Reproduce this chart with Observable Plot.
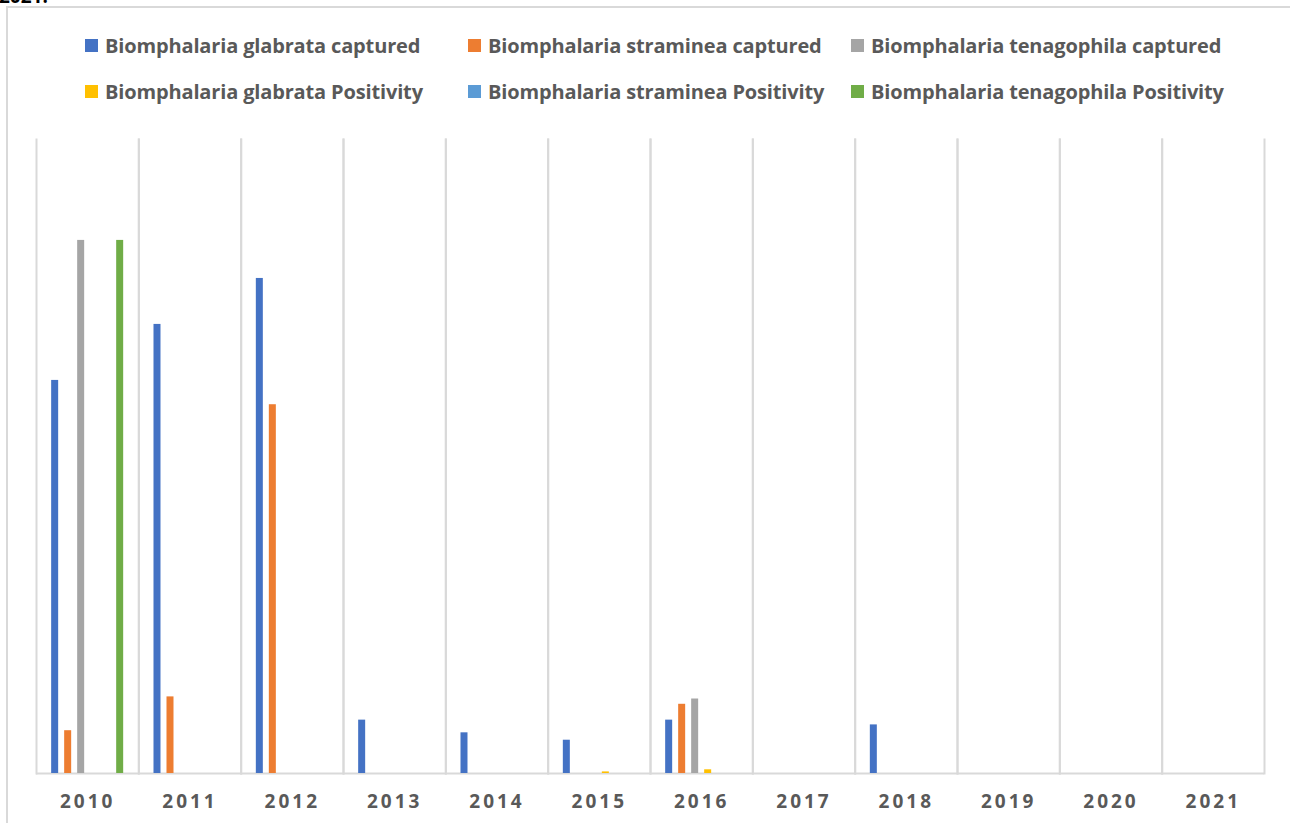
<!DOCTYPE html>
<html>
<head>
<meta charset="utf-8">
<script src="https://cdn.jsdelivr.net/npm/d3@7"></script>
<script src="https://cdn.jsdelivr.net/npm/@observablehq/plot@0.6"></script>
<style>
  html, body { margin: 0; padding: 0; background: #fff; width: 1290px; height: 823px; overflow: hidden; }
  body { position: relative; font-family: "Open Sans", sans-serif; }
  #cut { position: absolute; left: -1px; top: -17px; font: 700 19px "Open Sans", sans-serif; color: #000; }
  #box { position: absolute; left: 6px; top: 6px; width: 1300px; height: 900px; border-left: 2px solid #d9d9d9; border-top: 2px solid #d9d9d9; }
  .item { position: absolute; display: flex; align-items: center; font: 700 20px "Open Sans", sans-serif; letter-spacing: -0.15px; color: #595959; white-space: nowrap; }
  .sw { width: 13px; height: 13px; margin-right: 7px; flex: none; }
  #chart { position: absolute; left: 0; top: 120px; }
  #chart svg text { font-family: "Open Sans", sans-serif; }
  #chart g[aria-label="fx-axis tick label"] text { font-weight: 700; font-size: 19px; letter-spacing: 3px; fill: #595959; }
</style>
</head>
<body>
<div id="cut">2021.</div>
<div id="box"></div>
<div id="legend"></div>
<div id="chart"></div>
<script>
const years = ["2010","2011","2012","2013","2014","2015","2016","2017","2018","2019","2020","2021"];
const series = [
  "Biomphalaria glabrata captured",
  "Biomphalaria straminea captured",
  "Biomphalaria tenagophila captured",
  "Biomphalaria glabrata Positivity",
  "Biomphalaria straminea Positivity",
  "Biomphalaria tenagophila Positivity"
];
const colors = ["#4472C4", "#ED7D31", "#A5A5A5", "#FFC000", "#5B9BD5", "#70AD47"];
const glabrataCaptured      = [74.4, 85.0, 93.7, 10.1, 7.7, 6.3, 10.1, 0, 9.2, 0, 0, 0];
const stramineaCaptured     = [8.1, 14.5, 69.8, 0, 0, 0, 13.1, 0, 0, 0, 0, 0];
const tenagophilaCaptured   = [100.9, 0, 0, 0, 0, 0, 14.1, 0, 0, 0, 0, 0];
const glabrataPositivity    = [0, 0, 0, 0, 0, 0.3, 0.7, 0, 0, 0, 0, 0];
const stramineaPositivity   = [0, 0, 0, 0, 0, 0, 0, 0, 0, 0, 0, 0];
const tenagophilaPositivity = [100.9, 0, 0, 0, 0, 0, 0, 0, 0, 0, 0, 0];

const seriesValues = [glabrataCaptured, stramineaCaptured, tenagophilaCaptured,
                      glabrataPositivity, stramineaPositivity, tenagophilaPositivity];
const data = [];
years.forEach((year, i) => {
  series.forEach((s, j) => data.push({year, series: s, value: seriesValues[j][i]}));
});

// Legend (two rows of three)
const legend = document.getElementById("legend");
const colX = [85, 468, 851];
const rowY = [45, 91];
series.forEach((s, j) => {
  const el = document.createElement("div");
  el.className = "item";
  el.style.left = colX[j % 3] + "px";
  el.style.top = (rowY[Math.floor(j / 3)] - 14) + "px";
  el.style.height = "28px";
  el.innerHTML = `<span class="sw" style="background:${colors[j]}"></span><span>${s}</span>`;
  legend.appendChild(el);
});

const chart = Plot.plot({
  width: 1290,
  height: 703,
  marginLeft: 36,
  marginRight: 26,
  marginTop: 19,
  marginBottom: 50,
  fx: {domain: years, padding: 0, round: false, label: null, axis: "bottom", tickSize: 0, tickPadding: 21},
  x: {domain: series, paddingInner: 0.4615, paddingOuter: 1.166, round: false, axis: null},
  y: {domain: [0, 120], axis: null},
  color: {domain: series, range: colors},
  marks: [
    Plot.frame({anchor: "left", stroke: "#d9d9d9", strokeWidth: 2}),
    Plot.frame({anchor: "right", stroke: "#d9d9d9", strokeWidth: 2}),
    Plot.ruleY([0], {stroke: "#d9d9d9", strokeWidth: 2}),
    Plot.barY(data, {fx: "year", x: "series", y: "value", fill: "series"})
  ]
});
document.getElementById("chart").appendChild(chart);
</script>
</body>
</html>
